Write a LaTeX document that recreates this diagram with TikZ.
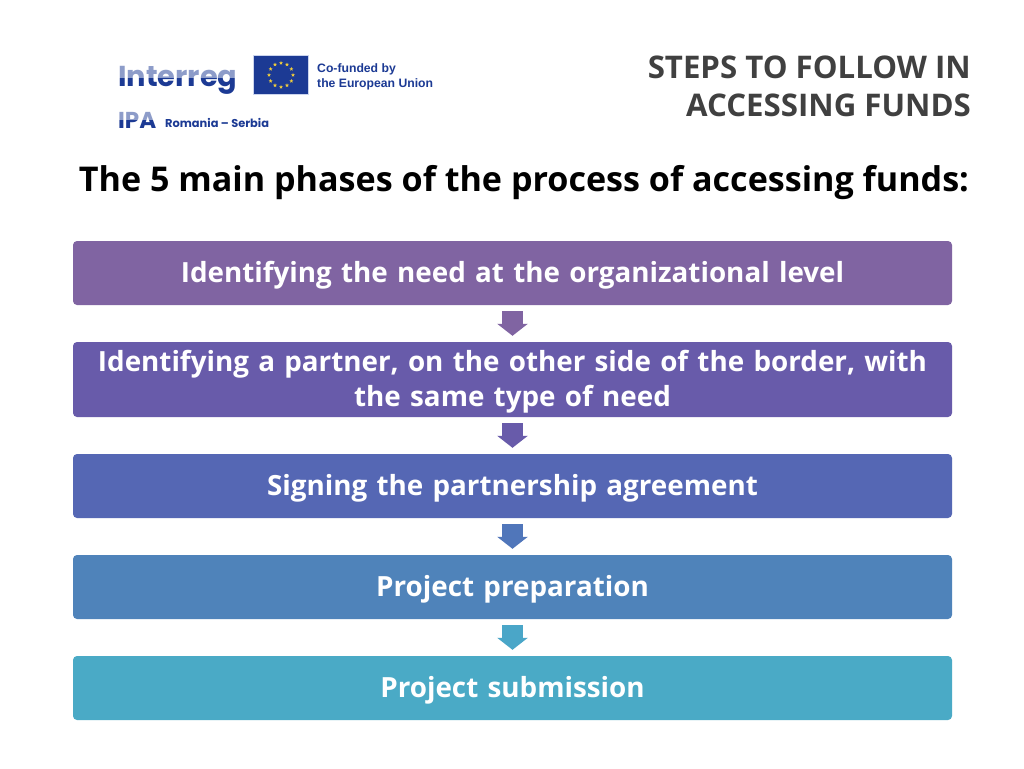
\documentclass[tikz,border=0pt]{standalone}
\usepackage{fontspec}
\setmainfont{Open Sans}
\newfontfamily\logofont{Poppins}
\newfontfamily\eufont{Liberation Sans}
\usetikzlibrary{arrows.meta}
\usetikzlibrary{shapes.geometric}
\definecolor{color1}{RGB}{128,100,162}
\definecolor{color2}{RGB}{104,91,170}
\definecolor{color3}{RGB}{85,103,180}
\definecolor{color4}{RGB}{79,131,186}
\definecolor{color5}{RGB}{74,170,198}
\definecolor{arrow4}{RGB}{80,118,186}
\definecolor{arrow5}{RGB}{74,166,200}
\definecolor{titlegrey}{RGB}{64,64,64}
\definecolor{eublue}{RGB}{28,58,148}
\definecolor{eulight}{RGB}{150,170,220}
\definecolor{euyellow}{RGB}{240,205,60}
\tikzset{>=latex}
\tikzset{
    phasebox/.style={rounded corners=4pt, minimum width=879pt, align=center, text width=870pt,
        inner sep=0pt, text=white, font=\fontsize{27.8}{35}\selectfont\bfseries,
        execute at begin node={\rule{0pt}{25.5pt}}},
    phasearrow/.style={line width=21pt, shorten <=6pt, shorten >=6pt,
        -{Triangle[length=12pt, width=30pt]}},
    eustar/.style={star, star points=5, star point ratio=2.4, fill=euyellow, inner sep=0pt, minimum size=4.2pt},
    logotext/.style={anchor=base west, inner sep=0pt, text=eublue},
}

\begin{document}
\begin{tikzpicture}[x=1pt, y=-1pt]
    \useasboundingbox[fill=white] (0, 0) rectangle (1024, 768);
    % logo
    \node[logotext, font=\fontsize{28.8}{32}\selectfont\logofont\bfseries] (interreg) at (118, 86) {Interreg};
    \node[logotext, font=\fontsize{23}{23}\selectfont\logofont\bfseries] (ipa) at (118, 128) {IPA};
    \fill[white, fill opacity=0.5] (110, 60) rectangle (245, 78);
    \fill[white, fill opacity=0.5] (110, 105) rectangle (165, 120);
    \node[logotext, font=\fontsize{11.4}{12}\selectfont\logofont\bfseries] (programme) at (165, 127) {Romania – Serbia};
    \node[draw=eulight!50, line width=1pt, fill=eublue, minimum width=55pt, minimum height=39pt, inner sep=0pt] (flag) at (281, 75) {};
    \foreach \i in {1,...,12}
        \node[eustar] (star\i) at ({281+12*cos(\i*30)}, {75+12*sin(\i*30)}) {};
    \node[logotext, font=\fontsize{12.2}{15}\selectfont\eufont\bfseries] (cofunded) at (317, 72) {Co-funded by};
    \node[logotext, font=\fontsize{12.2}{15}\selectfont\eufont\bfseries] (union) at (317, 87) {the European Union};
    % titles
    \node[anchor=east, inner sep=0pt, text=titlegrey, align=right, font=\fontsize{31.2}{38}\selectfont\bfseries] (steps) at (971, 86) {STEPS TO FOLLOW IN\\ACCESSING FUNDS};
    \node[anchor=center, inner sep=0pt, font=\fontsize{34.1}{38}\selectfont\bfseries] (phases) at (524, 183) {The 5 main phases of the process of accessing funds:};
    % phases
    \node[phasebox, fill=color1, minimum height=64pt] (need) at (512.5, 273) {Identifying the need at the organizational level};
    \node[phasebox, fill=color2, minimum height=75pt] (partner) at (512.5, 379.5) {Identifying a partner, on the other side of the border, with\\the same type of need};
    \node[phasebox, fill=color3, minimum height=64pt] (signing) at (512.5, 486) {Signing the partnership agreement};
    \node[phasebox, fill=color4, minimum height=64pt] (preparation) at (512.5, 587) {Project preparation};
    \node[phasebox, fill=color5, minimum height=64pt] (submission) at (512.5, 688) {Project submission};
    \draw[phasearrow, color1] (need) -- (partner);
    \draw[phasearrow, color2] (partner) -- (signing);
    \draw[phasearrow, arrow4] (signing) -- (preparation);
    \draw[phasearrow, arrow5] (preparation) -- (submission);
\end{tikzpicture}
\end{document}
